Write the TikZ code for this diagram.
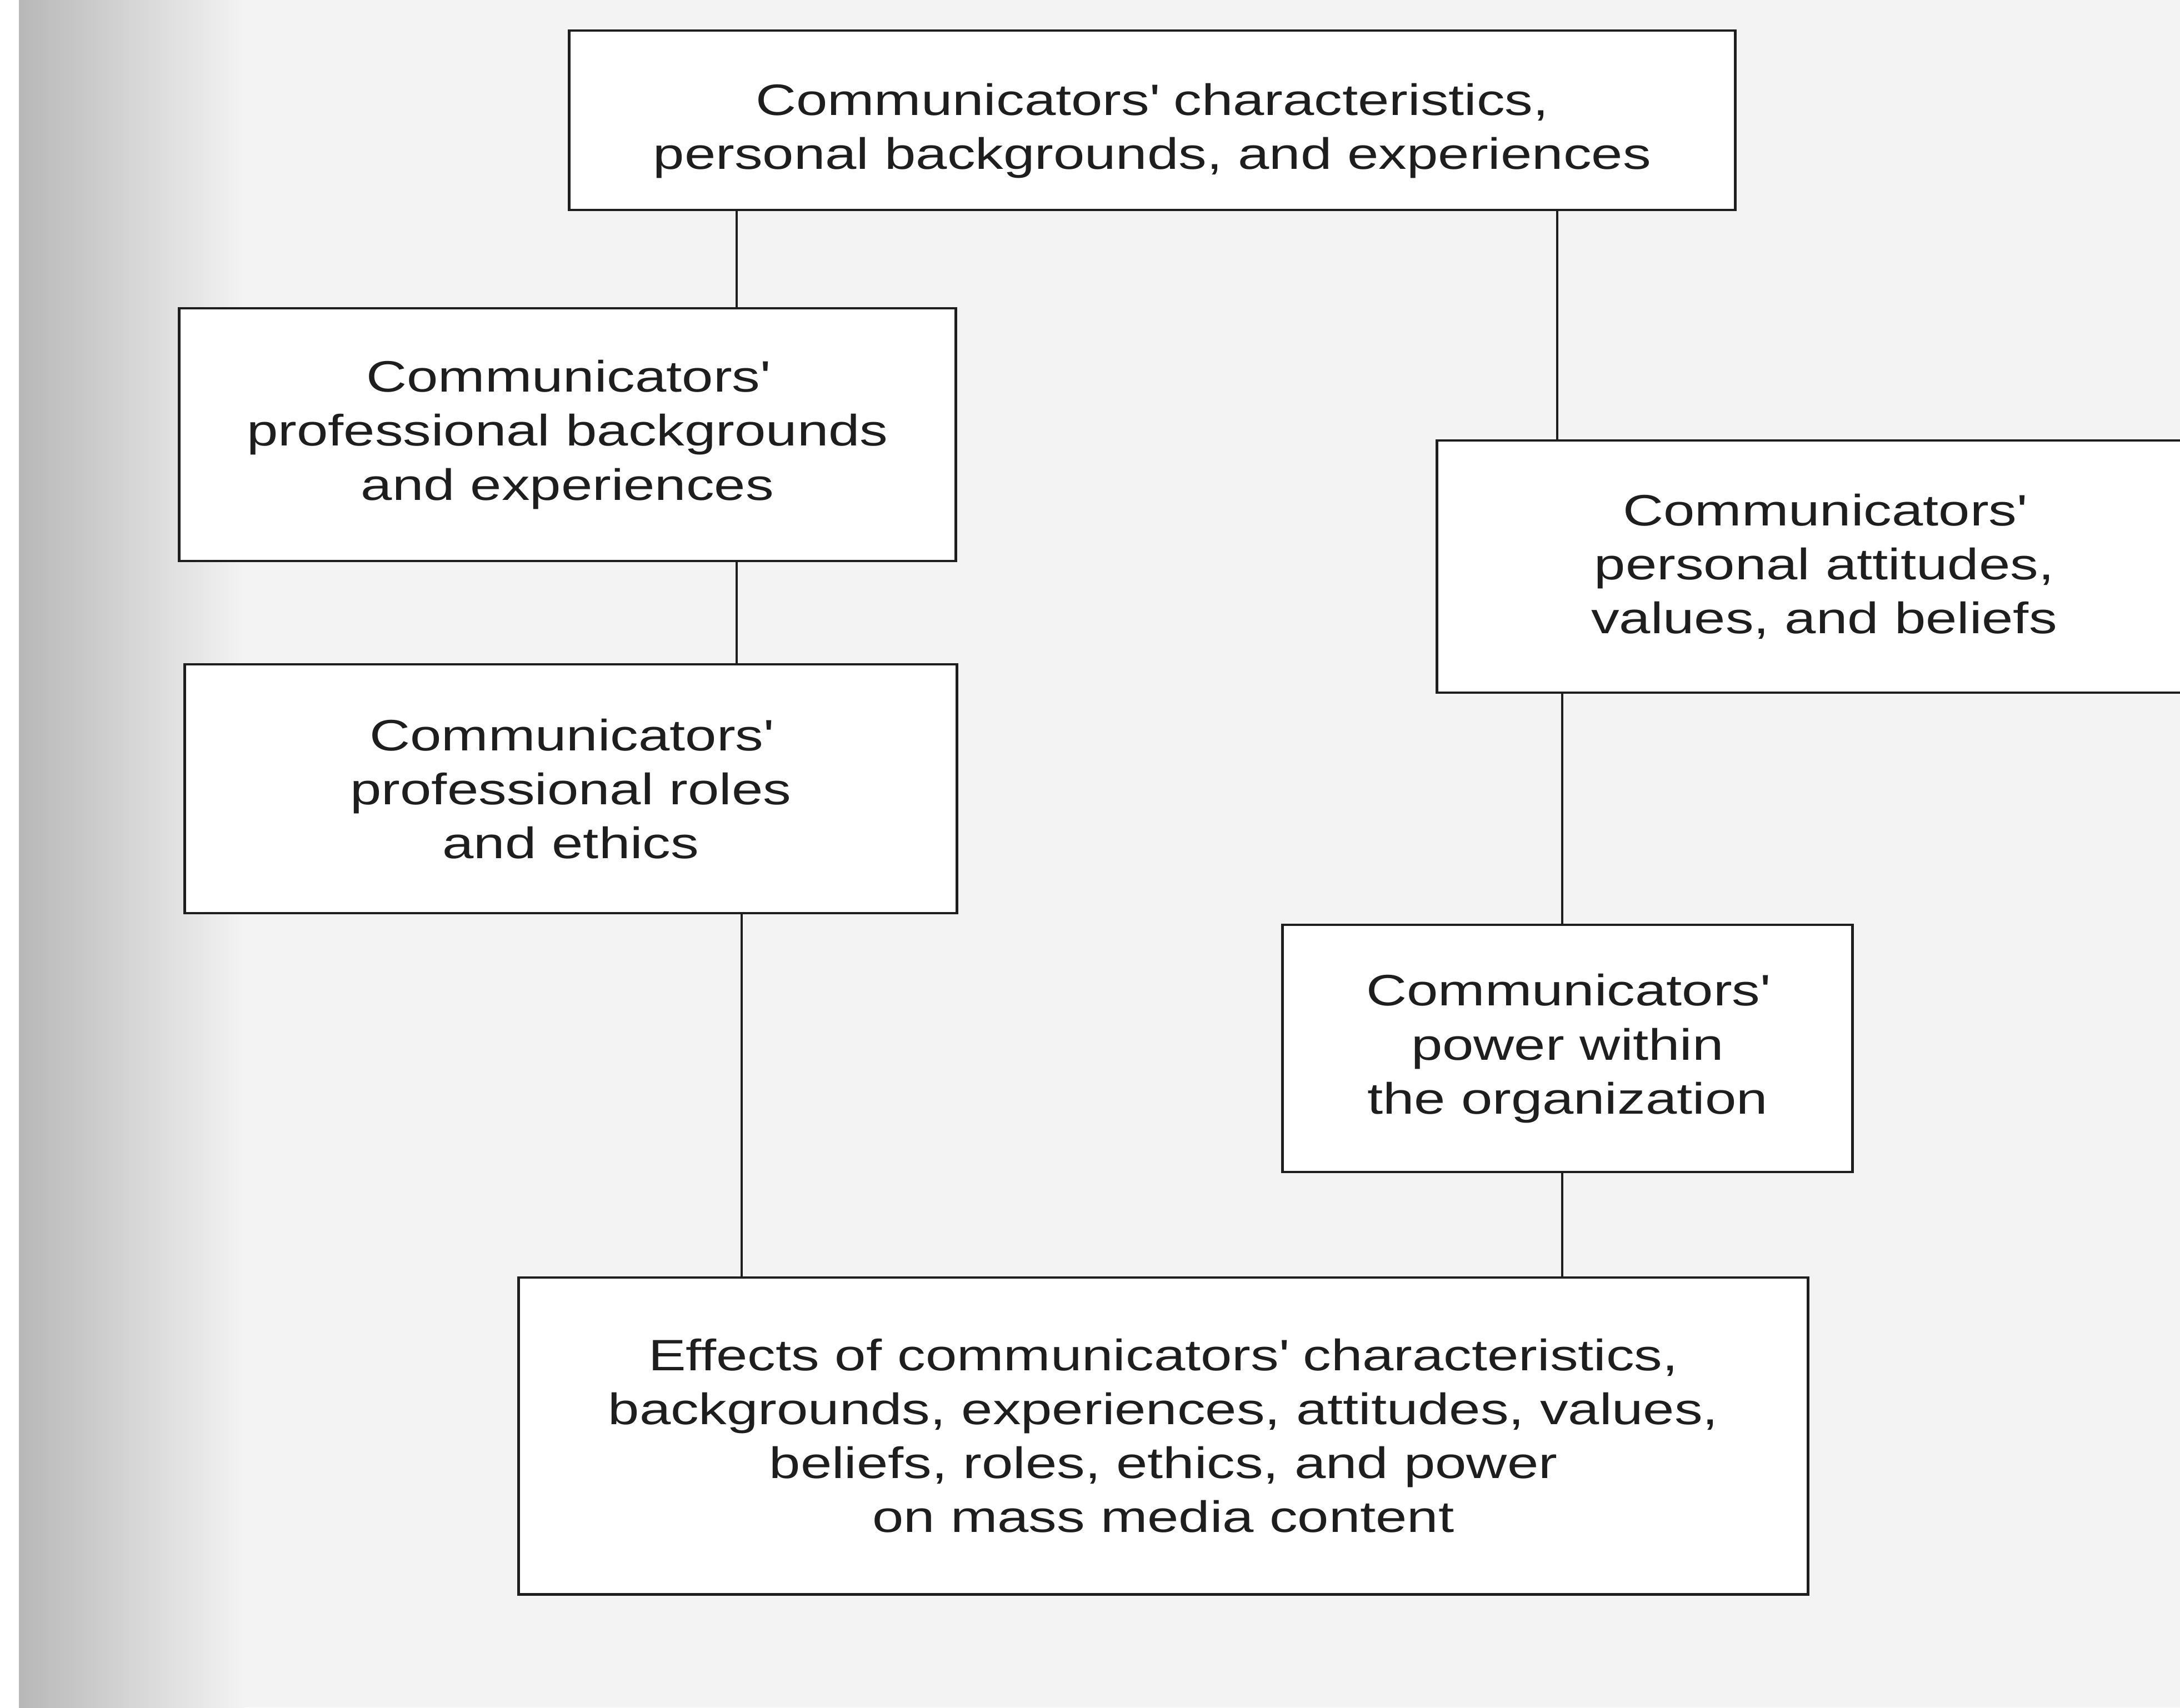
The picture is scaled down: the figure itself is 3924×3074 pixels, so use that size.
\documentclass[tikz,border=0pt]{standalone}
\usepackage{fontspec}
\setmainfont{Liberation Sans}[FakeStretch=1.28]
\definecolor{paper}{HTML}{F3F3F3}
\definecolor{ink}{HTML}{1E1E1E}
\newcommand{\ap}{\textquotesingle}
\begin{document}
\begin{tikzpicture}[x=0.01cm,y=-0.01cm,
  boxtext/.style={align=center, inner sep=0pt,
    font=\fontsize{22.5pt}{27.6pt}\selectfont, text=ink},
  box/.style={boxtext, draw=ink, line width=1.3pt, fill=white},
  link/.style={draw=ink, line width=1.2pt}]
% page and paper tone
\useasboundingbox (0,0) rectangle (3924,3074);
\clip (0,0) rectangle (3924,3074);
\fill[paper] (0,0) rectangle (3924,3074);
\fill[left color=black!28, right color=paper] (34,0) rectangle (440,3074);
\fill[white] (0,0) rectangle (34,3074);

% boxes
\node[box, minimum width=20.98cm, minimum height=3.23cm] (top) at (2074,216.5) {};
\node[boxtext] (topText) at ([yshift=-0.19cm]top.center)
  {Communicators\ap{} characteristics,\\personal backgrounds, and experiences};
\node[box, minimum width=13.97cm, minimum height=4.55cm] (prof) at (1021.5,782.5)
  {Communicators\ap{}\\professional backgrounds\\and experiences};
\node[box, minimum width=13.89cm, minimum height=4.48cm] (roles) at (1027.5,1420)
  {Communicators\ap{}\\professional roles\\and ethics};
\node[box, minimum width=13.93cm, minimum height=4.54cm] (attit) at (3283.5,1020)
  {Communicators\ap{}\\personal attitudes,\\values, and beliefs};
\node[box, minimum width=10.25cm, minimum height=4.45cm] (power) at (2821.5,1887.5)
  {Communicators\ap{}\\power within\\the organization};
\node[box, minimum width=23.20cm, minimum height=5.70cm] (effects) at (2094,2585)
  {Effects of communicators\ap{} characteristics,\\backgrounds, experiences, attitudes, values,\\beliefs, roles, ethics, and power\\on mass media content};

% connector columns
\coordinate (cL1) at (1326,0);
\coordinate (cL2) at (1335,0);
\coordinate (cR1) at (2803,0);
\coordinate (cR2) at (2812,0);

% connectors
\draw[link] (top.south -| cL1) -- (prof.north -| cL1);
\draw[link] (prof.south -| cL1) -- (roles.north -| cL1);
\draw[link] (roles.south -| cL2) -- (effects.north -| cL2);
\draw[link] (top.south -| cR1) -- (attit.north -| cR1);
\draw[link] (attit.south -| cR2) -- (power.north -| cR2);
\draw[link] (power.south -| cR2) -- (effects.north -| cR2);
\end{tikzpicture}
\end{document}
